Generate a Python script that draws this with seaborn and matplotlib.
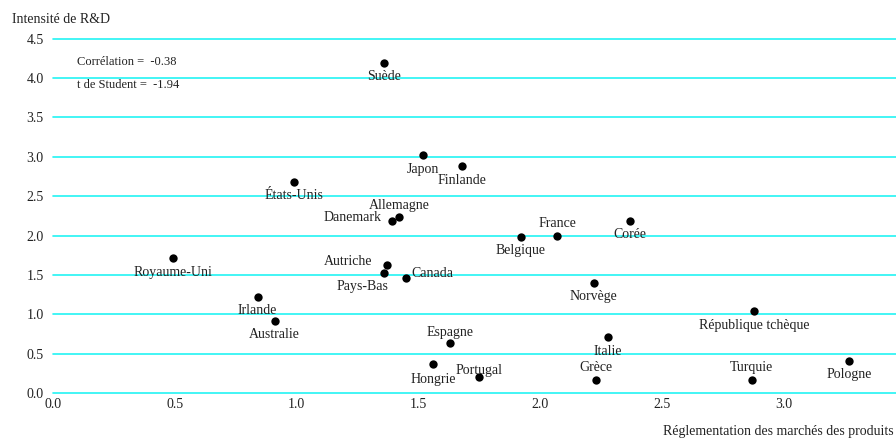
import matplotlib
matplotlib.use("Agg")
import matplotlib.pyplot as plt
import seaborn as sns
import pandas as pd

countries = ["Suède", "Japon", "Finlande", "États-Unis", "Allemagne", "Danemark",
             "Belgique", "France", "Corée", "Autriche", "Pays-Bas", "Canada",
             "Royaume-Uni", "Norvège", "Irlande", "République tchèque", "Australie",
             "Italie", "Espagne", "Hongrie", "Portugal", "Grèce", "Turquie", "Pologne"]
regulation = [1.36, 1.52, 1.68, 0.99, 1.42, 1.39,
              1.92, 2.07, 2.37, 1.37, 1.36, 1.45,
              0.49, 2.22, 0.84, 2.88, 0.91,
              2.28, 1.63, 1.56, 1.75, 2.23, 2.87, 3.27]
rd_intensity = [4.19, 3.02, 2.88, 2.68, 2.23, 2.18,
                1.98, 2.00, 2.19, 1.62, 1.53, 1.46,
                1.71, 1.40, 1.22, 1.04, 0.92,
                0.71, 0.64, 0.37, 0.20, 0.17, 0.17, 0.41]

x_ticks = [0.0, 0.5, 1.0, 1.5, 2.0, 2.5, 3.0]
y_ticks = [0.0, 0.5, 1.0, 1.5, 2.0, 2.5, 3.0, 3.5, 4.0, 4.5]
correlation = -0.38
t_student = -1.94

df = pd.DataFrame({"pays": countries, "pmr": regulation, "rd": rd_intensity})

sns.set_theme(style="white")
plt.rcParams["font.family"] = ["Liberation Serif", "DejaVu Serif"]

fig = plt.figure(figsize=(8.96, 4.40), dpi=100)
ax = fig.add_axes([0.0595, 0.106, 0.9405, 0.807])

sns.scatterplot(data=df, x="pmr", y="rd", ax=ax, color="black", s=36,
                edgecolor="black", linewidth=0, zorder=3, legend=False)

ax.set_xlim(0, 3.463)
ax.set_ylim(-0.004, 4.504)
ax.set_xticks(x_ticks)
ax.set_xticklabels([f"{v:.1f}" for v in x_ticks])
ax.set_yticks(y_ticks)
ax.set_yticklabels([f"{v:.1f}" for v in y_ticks])

for v in y_ticks:
    ax.axhline(v, color="#22f4f4", lw=1.2, zorder=1, clip_on=False)

for s in ax.spines.values():
    s.set_visible(False)
ax.tick_params(axis="both", direction="in", length=3, width=1, color="#3333ff",
               labelsize=10, labelcolor="#222222", pad=3)
ax.tick_params(axis="y", pad=7)
ax.set_xlabel("")
ax.set_ylabel("")

# label placement: (dx, dy) in points, horizontal alignment
placement = {
    "Suède": (0, -10, "center"), "Japon": (0, -10, "center"),
    "Finlande": (0, -10, "center"), "États-Unis": (0, -10, "center"),
    "Allemagne": (0, 8.5, "center"), "Danemark": (-7, 3, "right"),
    "Belgique": (0, -10, "center"), "France": (0, 9, "center"),
    "Corée": (0, -10, "center"), "Autriche": (-10, 3, "right"),
    "Pays-Bas": (-16, -10, "center"), "Canada": (4, 3, "left"),
    "Royaume-Uni": (0, -10, "center"), "Norvège": (0, -10, "center"),
    "Irlande": (0, -10, "center"), "République tchèque": (0, -10.5, "center"),
    "Australie": (0, -10, "center"), "Italie": (0, -10.5, "center"),
    "Espagne": (0, 7.5, "center"), "Hongrie": (0, -11.5, "center"),
    "Portugal": (0, 5, "center"), "Grèce": (0, 8.5, "center"),
    "Turquie": (0, 9, "center"), "Pologne": (0, -10, "center"),
}
for name, xv, yv in zip(countries, regulation, rd_intensity):
    dx, dy, ha = placement[name]
    ax.annotate(name, (xv, yv), xytext=(dx, dy), textcoords="offset points",
                ha=ha, va="center", fontsize=10, color="#222222", zorder=4)

fig.text(0.013, 0.955, "Intensité de R&D", ha="left", va="center",
         fontsize=10, color="#222222")
fig.text(0.086, 0.859, f"Corrélation =  {correlation:.2f}", ha="left", va="center",
         fontsize=9, color="#222222")
fig.text(0.086, 0.806, f"t de Student =  {t_student:.2f}", ha="left", va="center",
         fontsize=9, color="#222222")
fig.text(0.997, 0.019, "Réglementation des marchés des produits", ha="right",
         va="center", fontsize=10, color="#222222")

fig.savefig("out.png", dpi=100)
